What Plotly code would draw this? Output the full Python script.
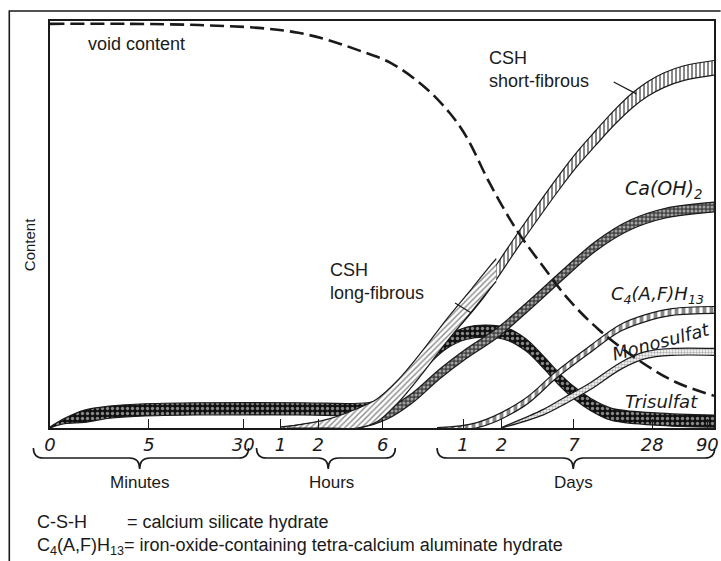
import numpy as np
import plotly.graph_objects as go

# ---- time scale (segmented: minutes | hours | days), positions on a 0-100 scale
tick_pos = [0, 14.9, 29.1, 34.7, 40.4, 50.1, 62.2, 68.0, 78.9, 90.7, 99.0]
tick_text = ["0", "5", "30", "1", "2", "6", "1", "2", "7", "28", "90"]

# ---- void content (dashed)
void_x = [0, 12.0, 22.4, 31.4, 37.4, 41.9, 46.3, 51.3, 56.4, 60.2, 62.8, 66.2,
          70.3, 74.3, 78.2, 82.7, 88.6, 94.2, 100]
void_y = [99.3, 99.3, 99.0, 98.3, 97.1, 95.3, 92.9, 89.7, 83.8, 77.4, 71.3, 60.2,
          48.6, 39.6, 31.4, 24.1, 16.7, 11.3, 7.9]

# ---- CSH short-fibrous
csh_short_x = [34.7, 41.9, 47.1, 50.8, 55.3, 59.8, 65.0, 71.0, 76.7, 79.5, 82.2,
               85.0, 87.7, 90.0, 92.5, 95.5, 100]
csh_short_y = [0, 0.5, 2.5, 6.1, 14.7, 23.3, 33.2, 47.4, 60.4, 66.3, 71.3,
               76.3, 80.5, 83.3, 85.5, 87.2, 88.5]

# ---- CSH long-fibrous
csh_long_x = [35.9, 41.9, 46.3, 49.3, 52.3, 56.1, 59.8, 63.5, 66.0, 67.2]
csh_long_y = [0, 0.5, 2.0, 4.4, 8.8, 16.2, 24.1, 31.4, 36.5, 38.8]

# ---- Trisulfat (ettringite)
tri_x = [0, 2.2, 5.2, 9.0, 13.5, 22.4, 37.4, 47.8, 50.8, 53.8, 56.8, 59.8, 62.8,
         65.8, 68.8, 71.7, 74.3, 76.5, 78.8, 81.5, 84.5, 91.2, 100]
tri_y = [0, 1.7, 2.9, 3.9, 4.4, 4.7, 4.7, 4.7, 5.9, 10.6, 16.7, 21.1, 23.3,
         23.8, 23.1, 20.4, 16.2, 12.3, 8.8, 5.7, 3.4, 2.2, 1.7]

# ---- Ca(OH)2
caoh_x = [41.9, 47.1, 50.8, 54.6, 58.7, 62.8, 67.3, 72.2, 77.0, 82.2, 87.4, 92.7, 100]
caoh_y = [0, 1.0, 3.4, 7.4, 13.3, 18.4, 23.3, 30.2, 37.3, 44.7, 49.9, 52.8, 54.3]

# ---- C4(A,F)H13
c4af_x = [58.3, 64.3, 71.3, 76.2, 81.2, 85.9, 89.7, 93.7, 100]
c4af_y = [0, 0.7, 6.1, 13.0, 19.2, 24.6, 27.0, 28.5, 29.0]

# ---- Monosulfat
mono_x = [68.0, 74.3, 77.7, 81.2, 86.2, 89.7, 93.7, 100]
mono_y = [0, 3.9, 6.9, 10.1, 15.5, 17.9, 18.7, 18.7]

INK = "#1a1a1a"
SANS = "Liberation Sans, Arial, sans-serif"
HAND = "DejaVu Sans, sans-serif"
NB = "\u00a0"

fig = go.Figure()


def add_band(x, y, half, pattern, taper_len=6.0):
    """Hatched band around a centre curve, outlined in black."""
    x = np.asarray(x, float)
    y = np.asarray(y, float)
    t = np.clip((x - x[0]) / taper_len, 0.15, 1.0)
    lower = np.maximum(y - half * t, 0)
    upper = y + half * t
    fig.add_trace(go.Scatter(x=x, y=lower, mode="lines",
                             line=dict(color=INK, width=1.2, shape="spline", smoothing=1.0),
                             hoverinfo="skip", showlegend=False))
    fig.add_trace(go.Scatter(x=x, y=upper, mode="lines", fill="tonexty",
                             fillcolor="white", fillpattern=pattern,
                             line=dict(color=INK, width=1.2, shape="spline", smoothing=1.0),
                             hoverinfo="skip", showlegend=False))


add_band(tri_x, tri_y, 1.5, dict(shape=".", fgcolor="white", bgcolor="#111", size=5, solidity=0.35), 5)
add_band(caoh_x, caoh_y, 1.2, dict(shape=".", fgcolor="white", bgcolor="#444", size=4, solidity=0.45), 8)
add_band(c4af_x, c4af_y, 0.85, dict(shape="|", fgcolor="#111", bgcolor="white", size=7, solidity=0.55), 8)
add_band(mono_x, mono_y, 0.85, dict(shape=".", fgcolor="#666", bgcolor="white", size=3, solidity=0.5), 8)
add_band(csh_short_x, csh_short_y, 1.8, dict(shape="|", fgcolor="#111", bgcolor="white", size=4, solidity=0.5), 10)
add_band(csh_long_x, csh_long_y, 2.8, dict(shape="/", fgcolor="#111", bgcolor="white", size=4, solidity=0.35), 10)

fig.add_trace(go.Scatter(x=void_x, y=void_y, mode="lines",
                         line=dict(color=INK, width=2.6, dash="14px,6px",
                                   shape="spline", smoothing=1.0),
                         hoverinfo="skip", showlegend=False))


# ---- curve labels
def label(text, x, y, size=18, font=SANS, italic=False, angle=0, xanchor="left"):
    fig.add_annotation(x=x, y=y, xref="x", yref="y", text=text, showarrow=False,
                       xanchor=xanchor, yanchor="middle", textangle=angle, align="left",
                       font=dict(family=font, size=size, color=INK,
                                 style="italic" if italic else "normal"))


label("void content", 5.4, 94.3)
label("CSH<br>short-fibrous", 65.8, 88.0)
label("CSH<br>long-fibrous", 41.9, 35.9)
label("Ca(OH)<sub>2</sub>", 92.4, 58.5, size=19, font=HAND, italic=True, xanchor="center")
label("C<sub>4</sub>(A,F)H<sub>13</sub>", 91.5, 32.7, size=18, font=HAND, italic=True, xanchor="center")
label("Monosulfat", 92.0, 21.2, size=18, font=HAND, italic=True, angle=-15, xanchor="center")
label("Trisulfat", 92.1, 6.4, size=18, font=HAND, italic=True, xanchor="center")

# leader lines
fig.add_shape(type="line", xref="x", yref="y", x0=84.9, y0=85.0, x1=88.3, y1=82.1,
              line=dict(color=INK, width=1.2))
fig.add_shape(type="line", xref="x", yref="y", x0=61.0, y0=30.7, x1=63.4, y1=28.3,
              line=dict(color=INK, width=1.2))


# ---- braces under the time axis (paper coordinates)
def brace(x0, x1, xc):
    p0, p1, pc = x0 / 100, x1 / 100, xc / 100
    d = 0.015
    yh, yl, yt = -0.049, -0.0737, -0.1007
    path = (f"M {p0},{yh} Q {p0},{yl} {p0 + d},{yl} L {pc - d},{yl} "
            f"Q {pc},{yl} {pc},{yt} Q {pc},{yl} {pc + d},{yl} "
            f"L {p1 - d},{yl} Q {p1},{yl} {p1},{yh}")
    fig.add_shape(type="path", xref="paper", yref="paper", path=path,
                  line=dict(color=INK, width=1.6))


brace(-2.5, 29.9, 13.5)
brace(31.1, 52.0, 41.9)
brace(58.3, 100.1, 78.8)

for txt, xc in [("Minutes", 13.6), ("Hours", 42.4), ("Days", 78.9)]:
    fig.add_annotation(x=xc / 100, y=-0.1327, xref="paper", yref="paper", text=txt,
                       showarrow=False, xanchor="center", yanchor="middle",
                       font=dict(family=SANS, size=17, color=INK))

# ---- footnote
footnote = ("C-S-H" + NB * 8 + "= calcium silicate hydrate<br>"
            "C<sub>4</sub>(A,F)H<sub>13</sub>= iron-oxide-containing "
            "tetra-calcium aluminate hydrate")
fig.add_annotation(x=-0.0224, y=-0.264, xref="paper", yref="paper",
                   text=footnote, showarrow=False, xanchor="left", yanchor="middle",
                   align="left", font=dict(family=SANS, size=18, color=INK))

# y-axis title
fig.add_annotation(x=-0.0314, y=0.4496, xref="paper", yref="paper", text="Content",
                   showarrow=False, textangle=-90, xanchor="center", yanchor="middle",
                   font=dict(family=SANS, size=15, color=INK))

# outer frame (left and top edges)
fig.add_shape(type="path", xref="paper", yref="paper",
              path="M -0.0613,-0.35 L -0.0613,1.0246 L 1.01,1.0246",
              line=dict(color=INK, width=1.6))

fig.update_layout(
    width=721, height=561,
    margin=dict(l=50, r=2, t=21, b=133),
    paper_bgcolor="white", plot_bgcolor="white",
    showlegend=False,
    xaxis=dict(range=[0, 100], tickvals=tick_pos, ticktext=tick_text,
               ticks="inside", ticklen=9, tickwidth=1.2, tickcolor=INK,
               tickfont=dict(family=HAND, size=18, color=INK, style="italic"),
               ticklabeloverflow="allow",
               showline=True, mirror=True, linecolor=INK, linewidth=1.6,
               showgrid=False, zeroline=False, fixedrange=True),
    yaxis=dict(range=[0, 100], showticklabels=False, ticks="",
               showline=True, mirror=True, linecolor=INK, linewidth=1.6,
               showgrid=False, zeroline=False, fixedrange=True),
)

fig.write_html("out.html")
